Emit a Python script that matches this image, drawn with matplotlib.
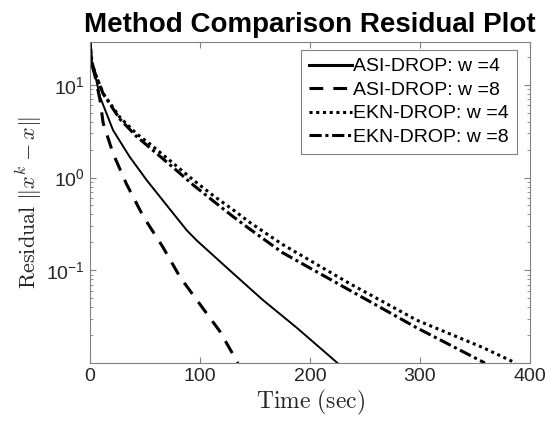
import matplotlib
matplotlib.use('Agg')
import matplotlib.pyplot as plt
from matplotlib.lines import Line2D

# DATA
t_asi4 = [0, 1.5, 4.5, 9, 21, 36, 51.5, 73, 88, 97, 127, 157, 188, 225]
r_asi4 = [29, 18, 13, 7.5, 3.24, 1.68, 0.94, 0.45, 0.27, 0.21, 0.1, 0.048, 0.024, 0.01]
t_asi8 = [0, 1.5, 4.5, 9, 12, 21, 33, 48.5, 66, 82, 97, 118, 134.5]
r_asi8 = [29, 17, 12.5, 7.0, 3.86, 1.82, 0.86, 0.38, 0.18, 0.084, 0.048, 0.022, 0.01]
t_ekn4 = [0, 1.5, 4.5, 12, 27, 42, 57.6, 75.8, 94, 112, 130, 145, 175, 236, 297, 357, 387]
r_ekn4 = [29, 18, 13.5, 8.1, 4.5, 3.0, 2.15, 1.42, 0.94, 0.64, 0.45, 0.33, 0.19, 0.072, 0.029, 0.0147, 0.01]
t_ekn8 = [0, 1.5, 4.5, 12, 27, 42, 57.6, 75.8, 94, 112, 130, 145, 175, 236, 297, 359]
r_ekn8 = [29, 18, 13.5, 8.0, 4.3, 2.8, 1.95, 1.28, 0.83, 0.56, 0.38, 0.28, 0.155, 0.061, 0.024, 0.01]
labels = ['ASI-DROP: w =4', 'ASI-DROP: w =8', 'EKN-DROP: w =4', 'EKN-DROP: w =8']

plt.rcParams['font.family'] = ['Liberation Sans', 'DejaVu Sans']
plt.rcParams['mathtext.fontset'] = 'cm'

fig = plt.figure(figsize=(5.5, 4.26), dpi=100)
ax = fig.add_axes([0.1636, 0.1479, 0.8, 0.7535])

lw = 2.2
dash = (0, (4.5, 3.3))
dot = (0, (1, 1.2))
dashdot = (0, (4, 1.2, 1, 1.2))
ax.plot(t_asi4, r_asi4, color='k', lw=1.4, ls='-')
ax.plot(t_asi8, r_asi8, color='k', lw=lw, ls=dash)
ax.plot(t_ekn4, r_ekn4, color='k', lw=lw, ls=dot)
ax.plot(t_ekn8, r_ekn8, color='k', lw=lw, ls=dashdot)

ax.set_yscale('log')
ax.set_xlim(0, 400)
ax.set_ylim(0.01, 29)
ax.set_xticks([0, 100, 200, 300, 400])
ax.set_yticks([0.1, 1, 10])

gray = '#262626'
for s in ax.spines.values():
    s.set_color('#808080')
    s.set_linewidth(0.8)
ax.tick_params(which='both', direction='in', top=True, right=True, colors='#808080',
               labelcolor=gray, labelsize=14)
ax.tick_params(which='major', length=4)
ax.tick_params(which='minor', length=2)

ax.set_xlabel(r'$\mathrm{Time\ (sec)}$', fontsize=17, color=gray, labelpad=2)
ax.set_ylabel(r'$\mathrm{Residual}\ \|x^k - x\|$', fontsize=16, color=gray, labelpad=2)
ax.set_title('Method Comparison Residual Plot', fontsize=20, fontweight='bold', pad=7)

handles = [Line2D([], [], color='k', lw=lw, ls='-'),
           Line2D([], [], color='k', lw=lw, ls=dash),
           Line2D([], [], color='k', lw=lw, ls=dot),
           Line2D([], [], color='k', lw=lw, ls=dashdot)]
leg = ax.legend(handles, labels, loc='upper right', bbox_to_anchor=(0.9705, 0.975),
                borderaxespad=0, fontsize=14, fancybox=False, framealpha=1,
                edgecolor='#808080', handlelength=2.2, handletextpad=0.1,
                borderpad=0.4, labelspacing=0.3)
leg.get_frame().set_linewidth(0.8)

fig.savefig('out.png', dpi=100)
